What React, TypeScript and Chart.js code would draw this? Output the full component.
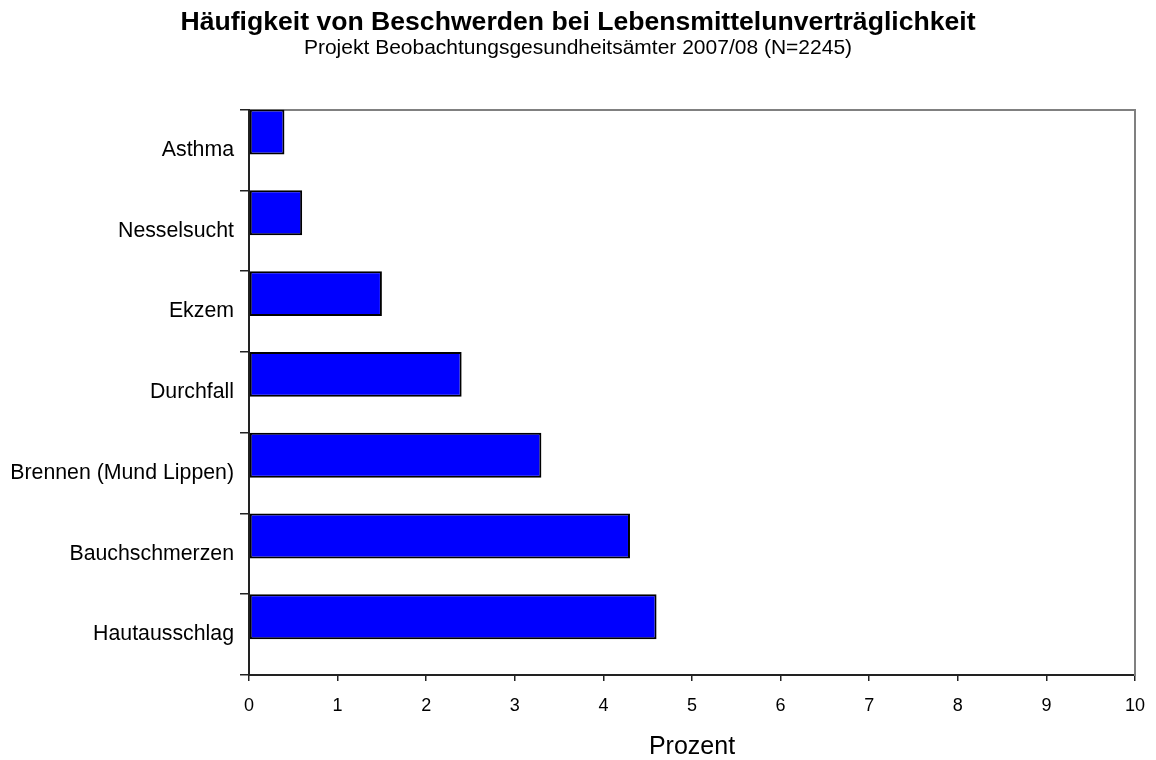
import React, { useEffect, useRef } from "react";
import { Chart, registerables } from "chart.js";

Chart.register(...registerables);

const categories = [
  "Asthma",
  "Nesselsucht",
  "Ekzem",
  "Durchfall",
  "Brennen (Mund Lippen)",
  "Bauchschmerzen",
  "Hautausschlag",
];
const prozentValues = [0.4, 0.6, 1.5, 2.4, 3.3, 4.3, 4.6];
const spacerValues = [null, null, null, null, null, null, null];
const xMin = 0;
const xMax = 10;
const titleText = "Häufigkeit von Beschwerden bei Lebensmittelunverträglichkeit";
const subtitleText = "Projekt Beobachtungsgesundheitsämter 2007/08 (N=2245)";
const xAxisTitle = "Prozent";

const FONT = "'Liberation Sans', Arial, sans-serif";

export default function App() {
  const ref = useRef<HTMLCanvasElement>(null);
  useEffect(() => {
    if (!ref.current) return;
    const chart = new Chart(ref.current, {
      type: "bar",
      data: {
        labels: categories,
        datasets: [
          {
            data: prozentValues,
            backgroundColor: "#0000FF",
            borderColor: "#000000",
            borderWidth: 2,
            borderSkipped: false,
            categoryPercentage: 0.887,
            barPercentage: 1.255,
          },
          {
            data: spacerValues as any,
            backgroundColor: "rgba(0,0,0,0)",
            borderWidth: 0,
            categoryPercentage: 0.887,
            barPercentage: 1.255,
          },
        ],
      },
      options: {
        indexAxis: "y",
        responsive: false,
        animation: false,
        layout: { padding: 0 },
        plugins: {
          legend: { display: false },
          tooltip: { enabled: false },
          title: {
            display: true,
            text: titleText,
            color: "#000",
            font: { family: FONT, size: 26.6, weight: "bold", lineHeight: 1 },
            padding: { top: 9, bottom: 2 },
          },
          subtitle: {
            display: true,
            text: subtitleText,
            color: "#000",
            font: { family: FONT, size: 21, lineHeight: 1 },
            padding: { top: 0, bottom: 51 },
          },
        },
        scales: {
          x: {
            type: "linear",
            position: "bottom",
            min: xMin,
            max: xMax,
            ticks: {
              stepSize: 1,
              color: "#000",
              font: { family: FONT, size: 18 },
              padding: 14,
            },
            grid: {
              drawOnChartArea: false,
              drawTicks: true,
              tickLength: 6,
              color: "#222",
              lineWidth: 1.5,
            },
            border: { display: true, color: "#222", width: 2 },
            title: {
              display: true,
              text: xAxisTitle,
              color: "#000",
              font: { family: FONT, size: 25, lineHeight: 1 },
              padding: { top: 0, bottom: 0 },
            },
            afterFit: (s: any) => {
              s.height = 85;
              s.paddingRight = 0;
              s.paddingLeft = 0;
            },
          },
          x2: {
            type: "linear",
            position: "top",
            display: true,
            min: xMin,
            max: xMax,
            ticks: { display: false },
            grid: { drawOnChartArea: false, drawTicks: false },
            border: { display: true, color: "#808080", width: 2 },
            afterFit: (s: any) => {
              s.height = 0;
              s.paddingRight = 0;
              s.paddingLeft = 0;
            },
          },
          y: {
            type: "category",
            position: "left",
            ticks: {
              color: "#000",
              font: { family: FONT, size: 21.3 },
              padding: 6,
            },
            grid: {
              drawOnChartArea: false,
              drawTicks: true,
              tickLength: 9,
              offset: true,
              color: "#222",
              lineWidth: 1.5,
            },
            border: { display: true, color: "#222", width: 2 },
            afterFit: (s: any) => {
              s.width = 249;
            },
          },
          y2: {
            type: "linear",
            position: "right",
            display: true,
            min: 0,
            max: 1,
            ticks: { display: false },
            grid: { drawOnChartArea: false, drawTicks: false },
            border: { display: true, color: "#808080", width: 2 },
            afterFit: (s: any) => {
              s.width = 21;
            },
          },
        },
      },
    });
    return () => chart.destroy();
  }, []);
  return (
    <div style={{ position: "fixed", left: 0, top: 0, width: 1156, height: 760, background: "#fff" }}>
      <canvas ref={ref} width={1156} height={760} />
    </div>
  );
}
